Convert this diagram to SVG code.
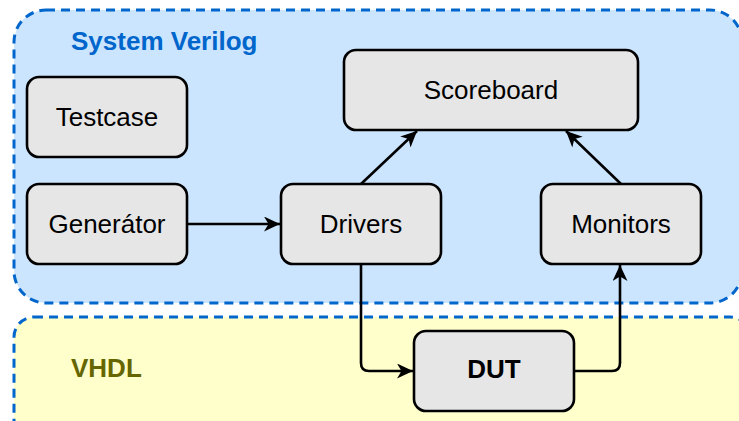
<svg xmlns="http://www.w3.org/2000/svg" width="739" height="421" viewBox="0 0 739 421">
  <style>
    .node rect { fill: #e6e6e6; stroke: #000; stroke-width: 2.6; }
    .node text { font-family: "Liberation Sans", Arial, Helvetica, sans-serif; font-size: 26px; fill: #000; text-anchor: middle; }
    .zone { stroke: #0066cc; stroke-width: 3; stroke-dasharray: 9 6; }
    .zone-label { font-family: "Liberation Sans", Arial, Helvetica, sans-serif; font-size: 26px; font-weight: bold; }
    .edge { fill: none; stroke: #000; stroke-width: 2.6; marker-end: url(#arrow); }
  </style>
  <defs>
    <marker id="arrow" markerUnits="userSpaceOnUse" markerWidth="17" markerHeight="16" refX="16" refY="7.5" orient="auto">
      <path d="M0,0 L16,7.5 L0,15 L4.5,7.5 Z" fill="#000"/>
    </marker>
  </defs>

  <rect width="739" height="421" fill="#ffffff"/>

  <!-- language zones -->
  <g id="zone-systemverilog">
    <rect class="zone" x="14" y="10" width="728" height="293" rx="32" ry="32" fill="#cce5ff"/>
    <text class="zone-label" x="71" y="50" fill="#0066cc">System Verilog</text>
  </g>
  <g id="zone-vhdl">
    <rect class="zone" x="14" y="317" width="736" height="130" rx="20" ry="20" fill="#ffffcc"/>
    <text class="zone-label" x="71" y="377" fill="#666600">VHDL</text>
  </g>

  <!-- connectors -->
  <g id="connectors">
    <path class="edge" d="M187,224 L280,224"/>
    <path class="edge" d="M361,184 L417,131"/>
    <path class="edge" d="M621,184 L566,131"/>
    <path class="edge" d="M361,264 L361,363 Q361,371 369,371 L413,371"/>
    <path class="edge" d="M574,371 L612,371 Q620,371 620,363 L620,265"/>
  </g>

  <!-- testbench components -->
  <g id="testcase" class="node">
    <rect x="27" y="77" width="160" height="80" rx="12" ry="12"/>
    <text x="107" y="126">Testcase</text>
  </g>
  <g id="scoreboard" class="node">
    <rect x="344" y="50" width="294" height="80" rx="12" ry="12"/>
    <text x="491" y="99">Scoreboard</text>
  </g>
  <g id="generator" class="node">
    <rect x="27" y="184" width="160" height="80" rx="12" ry="12"/>
    <text x="107" y="233">Generátor</text>
  </g>
  <g id="drivers" class="node">
    <rect x="281" y="184" width="160" height="80" rx="12" ry="12"/>
    <text x="361" y="233">Drivers</text>
  </g>
  <g id="monitors" class="node">
    <rect x="541" y="184" width="160" height="80" rx="12" ry="12"/>
    <text x="621" y="233">Monitors</text>
  </g>
  <g id="dut" class="node">
    <rect x="414" y="331" width="160" height="80" rx="12" ry="12"/>
    <text x="494" y="378" font-weight="bold">DUT</text>
  </g>
</svg>
